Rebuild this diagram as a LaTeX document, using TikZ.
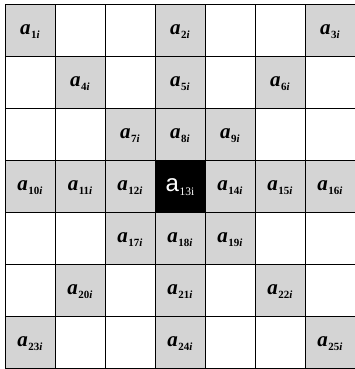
\documentclass[tikz,border=0pt]{standalone}
\usepackage{fontspec}
\setmainfont{Liberation Serif}
\newfontfamily\lsans{Liberation Sans}
\newcommand{\lab}[1]{{\fontsize{21}{21}\selectfont\bfseries\itshape a}\kern0.5pt\raisebox{-4pt}{\fontsize{11}{11}\selectfont\bfseries #1\textit{i}}}
\newcommand{\labc}[1]{{\lsans\fontsize{24}{24}\selectfont a}\kern0.5pt\raisebox{-4pt}{\fontsize{11.5}{11.5}\selectfont #1i}}
\begin{document}
\begin{tikzpicture}[x=1pt,y=1pt,
  cell/.style={draw=black,line width=0.9pt,minimum width=50pt,minimum height=52pt,inner sep=0pt,anchor=center},
  shade/.style={cell,fill=black!17},
  dark/.style={cell,fill=black,text=white}]
\useasboundingbox (0,0) rectangle (355,369);
% empty cells
\foreach \r in {1,...,7}{
  \foreach \c in {1,...,7}{
    \node[cell] (e-\r-\c) at ({5+50*(\c-0.5)},{369-(4+52*(\r-0.5))}) {};
  }
}
% shaded cells with labels
\foreach \r/\c/\k in {1/1/1,1/4/2,1/7/3,2/2/4,2/4/5,2/6/6,3/3/7,3/4/8,3/5/9,
  4/1/10,4/2/11,4/3/12,4/5/14,4/6/15,4/7/16,5/3/17,5/4/18,5/5/19,
  6/2/20,6/4/21,6/6/22,7/1/23,7/4/24,7/7/25}{
  \node[shade] (s-\k) at ({5+50*(\c-0.5)},{369-(4+52*(\r-0.5))}) {};
  \node (l-\k) at ([yshift=-2pt]s-\k.center) {\lab{\k}};
}
\node[dark] (s-13) at ({5+50*3.5},{369-(4+52*3.5)}) {};
\node[text=white] (l-13) at ([yshift=-1pt]s-13.center) {\labc{13}};
\end{tikzpicture}
\end{document}
